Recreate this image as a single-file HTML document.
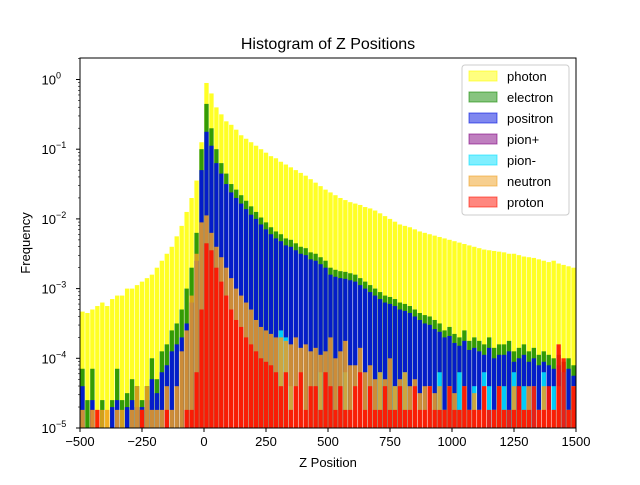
<!DOCTYPE html>
<html><head><meta charset="utf-8"><style>
body{margin:0;background:#fff;}
svg text{font-family:"Liberation Sans","DejaVu Sans",sans-serif;fill:#000;}
</style></head><body>
<svg id="chart" width="640" height="480" xmlns="http://www.w3.org/2000/svg">
<rect x="0" y="0" width="640" height="480" fill="#fff"/>
<text x="328" y="49" font-size="16" text-anchor="middle">Histogram of Z Positions</text>
<g id="bars"></g>
<g id="axes"></g>
<text x="328" y="467" font-size="13" text-anchor="middle">Z Position</text>
<text x="30" y="243" font-size="13" text-anchor="middle" transform="rotate(-90 30 243)">Frequency</text>
<g id="legend"></g>
</svg>
<script>
const binStart = -500, binWidth = 20;
const seriesNames = ["photon","electron","positron","pion+","pion-","neutron","proton"];
const seriesColors = ["#ffff00","#108a00","#0010e0","#800080","#00e0ff","#f0a020","#ff1000"];
const seriesOpacity = [0.85,0.85,0.9,0.7,0.9,0.85,0.9];
// log10(frequency) per 20-unit bin from -500 to 1500; -6 means empty
const photonLog = [-3.33,-3.35,-3.3,-3.25,-3.2,-3.25,-3.15,-3.1,-3.1,-3.0,-3.0,-2.95,-2.9,-2.85,-2.8,-2.7,-2.6,-2.5,-2.4,-2.25,-2.1,-1.9,-1.7,-1.45,-0.9,-0.05,-0.2,-0.4,-0.5,-0.6,-0.65,-0.72,-0.8,-0.85,-0.9,-0.95,-1.0,-1.05,-1.1,-1.13,-1.18,-1.22,-1.26,-1.3,-1.34,-1.38,-1.43,-1.48,-1.53,-1.58,-1.62,-1.66,-1.7,-1.73,-1.76,-1.78,-1.8,-1.83,-1.85,-1.88,-1.92,-1.96,-2.0,-2.04,-2.08,-2.1,-2.12,-2.15,-2.18,-2.2,-2.22,-2.24,-2.26,-2.28,-2.3,-2.32,-2.34,-2.36,-2.38,-2.4,-2.42,-2.44,-2.45,-2.46,-2.47,-2.48,-2.5,-2.5,-2.52,-2.54,-2.55,-2.56,-2.58,-2.6,-2.62,-2.6,-2.64,-2.66,-2.68,-2.7];
const electronLog = [-4.15,-4.6,-4.15,-5,-4.6,-5,-4.6,-4.15,-4.6,-4.5,-4.3,-4.4,-4.6,-4.4,-4.0,-4.3,-3.9,-3.8,-3.6,-3.5,-3.3,-3.0,-2.7,-2.2,-1.0,-0.35,-0.7,-1.0,-1.2,-1.35,-1.5,-1.58,-1.66,-1.74,-1.82,-1.9,-1.98,-2.05,-2.12,-2.18,-2.22,-2.28,-2.3,-2.35,-2.4,-2.42,-2.48,-2.5,-2.55,-2.6,-2.7,-2.73,-2.75,-2.76,-2.78,-2.8,-2.85,-2.9,-2.95,-3.0,-3.05,-3.1,-3.12,-3.15,-3.2,-3.22,-3.25,-3.3,-3.35,-3.38,-3.4,-3.45,-3.5,-3.6,-3.55,-3.65,-3.7,-3.6,-3.75,-3.7,-3.75,-3.8,-3.7,-3.85,-3.8,-3.8,-3.75,-3.9,-3.85,-3.8,-3.9,-3.85,-3.95,-3.9,-3.95,-4.0,-3.95,-4.05,-4.0,-4.1];
const positronLog = [-4.4,-5,-4.6,-5,-5,-5,-4.7,-4.6,-5,-4.7,-4.6,-4.7,-4.7,-4.6,-4.3,-4.5,-4.2,-4.1,-3.9,-3.8,-3.7,-3.5,-3.2,-2.6,-1.3,-0.75,-0.95,-1.2,-1.35,-1.5,-1.62,-1.7,-1.78,-1.86,-1.94,-2.0,-2.08,-2.15,-2.22,-2.28,-2.32,-2.38,-2.4,-2.45,-2.5,-2.52,-2.58,-2.6,-2.65,-2.7,-2.8,-2.83,-2.85,-2.86,-2.88,-2.9,-2.95,-3.0,-3.05,-3.1,-3.15,-3.2,-3.22,-3.25,-3.3,-3.32,-3.35,-3.4,-3.45,-3.5,-3.52,-3.58,-3.62,-3.7,-3.68,-3.78,-3.82,-3.75,-3.88,-3.85,-3.9,-3.95,-3.85,-4.0,-3.95,-3.95,-3.9,-4.05,-4.0,-3.95,-4.05,-4.0,-4.1,-4.05,-4.1,-4.15,-4.1,-4.2,-4.15,-4.25];
const pionPlusLog = [-6,-6,-4.74,-6,-6,-6,-6,-6,-6,-6,-6,-6,-6,-6,-6,-6,-6,-6,-6,-6,-6,-6,-6,-6,-6,-6,-6,-6,-4.74,-6,-6,-6,-6,-6,-6,-6,-6,-6,-6,-6,-6,-6,-6,-6,-6,-4.74,-6,-6,-6,-6,-6,-6,-4.74,-6,-6,-6,-4.74,-6,-6,-6,-6,-4.74,-6,-6,-6,-4.74,-6,-6,-4.74,-6,-6,-6,-4.74,-6,-6,-4.74,-6,-4.74,-6,-6,-4.74,-6,-6,-4.74,-6,-4.74,-6,-6,-4.4,-6,-4.74,-6,-6,-4.74,-6,-4.74,-6,-6,-4.74,-6];
const pionMinusLog = [-6,-6,-6,-6,-6,-6,-6,-6,-6,-6,-6,-6,-6,-6,-6,-6,-6,-6,-6,-6,-6,-6,-6,-6,-6,-6,-6,-6,-6,-6,-6,-6,-6,-4.74,-6,-6,-6,-4.74,-6,-6,-3.6,-3.7,-4.4,-4.74,-4.2,-4.74,-4.4,-4.74,-4.2,-4.74,-4.4,-4.74,-4.74,-4.2,-4.74,-4.4,-4.74,-4.74,-4.4,-4.74,-4.2,-4.74,-4.74,-4.4,-4.74,-4.2,-4.74,-4.4,-4.74,-4.74,-4.4,-4.74,-4.2,-4.74,-4.4,-4.74,-4.2,-4.74,-4.74,-4.4,-4.74,-4.2,-4.4,-4.74,-4.74,-4.4,-4.74,-4.2,-4.74,-4.4,-4.74,-4.4,-4.74,-4.2,-4.74,-4.4,-4.74,-4.2,-4.74,-4.4];
const neutronLog = [-4.74,-6,-4.74,-6,-4.74,-4.74,-6,-4.74,-4.74,-6,-4.74,-4.4,-4.74,-4.4,-4.74,-4.74,-4.74,-4.4,-4.74,-4.4,-3.9,-3.6,-3.1,-2.5,-2.05,-1.95,-2.2,-2.4,-2.55,-2.7,-2.85,-3.0,-3.1,-3.2,-3.3,-3.45,-3.55,-3.6,-3.65,-3.7,-3.7,-3.75,-3.8,-3.7,-3.85,-3.8,-3.9,-3.85,-3.95,-3.9,-3.7,-4.0,-3.9,-3.75,-4.1,-4.1,-3.85,-4.2,-4.1,-4.3,-4.2,-4.3,-4.0,-4.4,-4.3,-4.2,-4.4,-4.3,-4.5,-4.4,-4.4,-4.5,-4.4,-4.74,-4.4,-4.5,-4.74,-4.4,-4.74,-4.5,-4.74,-4.4,-6,-4.74,-4.4,-4.74,-6,-4.4,-4.74,-4.74,-4.4,-6,-4.74,-4.4,-4.74,-4.74,-4.4,-6,-4.74,-4.4];
const protonLog = [-6,-6,-6,-4.74,-6,-6,-6,-6,-6,-6,-6,-6,-4.74,-6,-6,-6,-6,-4.74,-6,-6,-6,-4.74,-4.74,-4.2,-3.3,-2.35,-2.45,-2.7,-2.9,-3.1,-3.3,-3.45,-3.55,-3.7,-3.8,-3.9,-4.0,-4.05,-4.1,-4.2,-4.4,-4.2,-4.74,-4.4,-4.2,-4.74,-4.4,-4.4,-4.74,-4.2,-4.4,-4.74,-4.4,-4.74,-4.74,-4.4,-4.2,-4.74,-4.4,-4.74,-4.74,-4.4,-4.74,-4.74,-4.4,-4.74,-4.74,-4.4,-4.74,-4.74,-4.4,-4.74,-4.74,-4.74,-4.4,-4.74,-4.74,-4.4,-4.74,-4.74,-4.74,-4.4,-4.74,-4.74,-4.4,-4.74,-4.74,-4.74,-4.4,-4.74,-4.74,-4.4,-4.74,-4.74,-4.4,-4.74,-3.8,-4.0,-4.74,-4.4];
const xTickValues = [-500,-250,0,250,500,750,1000,1250,1500];
const yTickExps = [0,-1,-2,-3,-4,-5];

const NS="http://www.w3.org/2000/svg";
const L=80,R=576,T=58,B=428;
const xMin=-500,xMax=1500,yMinExp=-5,y0=79.5,decade=69.7;
function xs(v){return L+(v-xMin)/(xMax-xMin)*(R-L);}
function ys(lg){return y0-(lg)*decade;}
function mk(tag,attrs,parent){const e=document.createElementNS(NS,tag);for(const k in attrs)e.setAttribute(k,attrs[k]);parent.appendChild(e);return e;}

const allSeries=[photonLog,electronLog,positronLog,pionPlusLog,pionMinusLog,neutronLog,protonLog];
const barsG=document.getElementById('bars');
allSeries.forEach((arr,si)=>{
  const g=mk('g',{opacity:seriesOpacity[si]},barsG);
  
  
  arr.forEach((lg,i)=>{
    if(lg<=yMinExp) return;
    const x1=xs(binStart+i*binWidth), x2=xs(binStart+(i+1)*binWidth);
    const top=Math.max(T,ys(lg));
    const r=mk('rect',{x:x1+0.3,y:top,width:x2-x1-0.6,height:B-top,fill:seriesColors[si]},g);
    
    
  });
});

const ax=document.getElementById('axes');
const frame=mk('rect',{x:L,y:T,width:R-L,height:B-T,fill:'none',stroke:'#000','stroke-width':1},ax);


xTickValues.forEach(v=>{
  const x=xs(v);
  mk('line',{x1:x,x2:x,y1:B,y2:B+4,stroke:'#000'},ax);
  const t=mk('text',{x:x,y:B+18,'font-size':13,'text-anchor':'middle'},ax);
  t.textContent=(v<0?'\u2212'+Math.abs(v):v);
  
  
});
yTickExps.forEach(e=>{
  const y=ys(e);
  mk('line',{x1:L-4,x2:L,y1:y,y2:y,stroke:'#000'},ax);
  const t=mk('text',{x:L-24,y:y+5,'font-size':13,'text-anchor':'end'},ax);
  t.textContent='10';
  
  
  const s=mk('text',{x:L-24,y:y-1,'font-size':9,'text-anchor':'start'},ax);
  s.textContent=(e<0?'\u2212'+Math.abs(e):String(e));
  if(e<0){for(let m=2;m<10;m++){const yy=ys(e+Math.log10(m));mk('line',{x1:L-2,x2:L,y1:yy,y2:yy,stroke:'#000','stroke-width':0.6},ax);}}
  else {for(let m=2;m<10;m++){const yy=ys(Math.log10(m));if(yy>T)mk('line',{x1:L-2,x2:L,y1:yy,y2:yy,stroke:'#000','stroke-width':0.6},ax);}}
});

const lg=document.getElementById('legend');
mk('rect',{x:462,y:65,width:107,height:150,rx:3,fill:'#fff','fill-opacity':0.8,stroke:'#ccc'},lg);
seriesNames.forEach((n,i)=>{
  const y=76+i*21;
  const p=mk('rect',{x:469,y:y-5,width:28,height:10,fill:seriesColors[i],'fill-opacity':0.5,stroke:seriesColors[i],'stroke-opacity':0.6},lg);
  
  
  const t=mk('text',{x:507,y:y+5,'font-size':13},lg);
  t.textContent=n;
  
  
});
</script>
</body></html>
